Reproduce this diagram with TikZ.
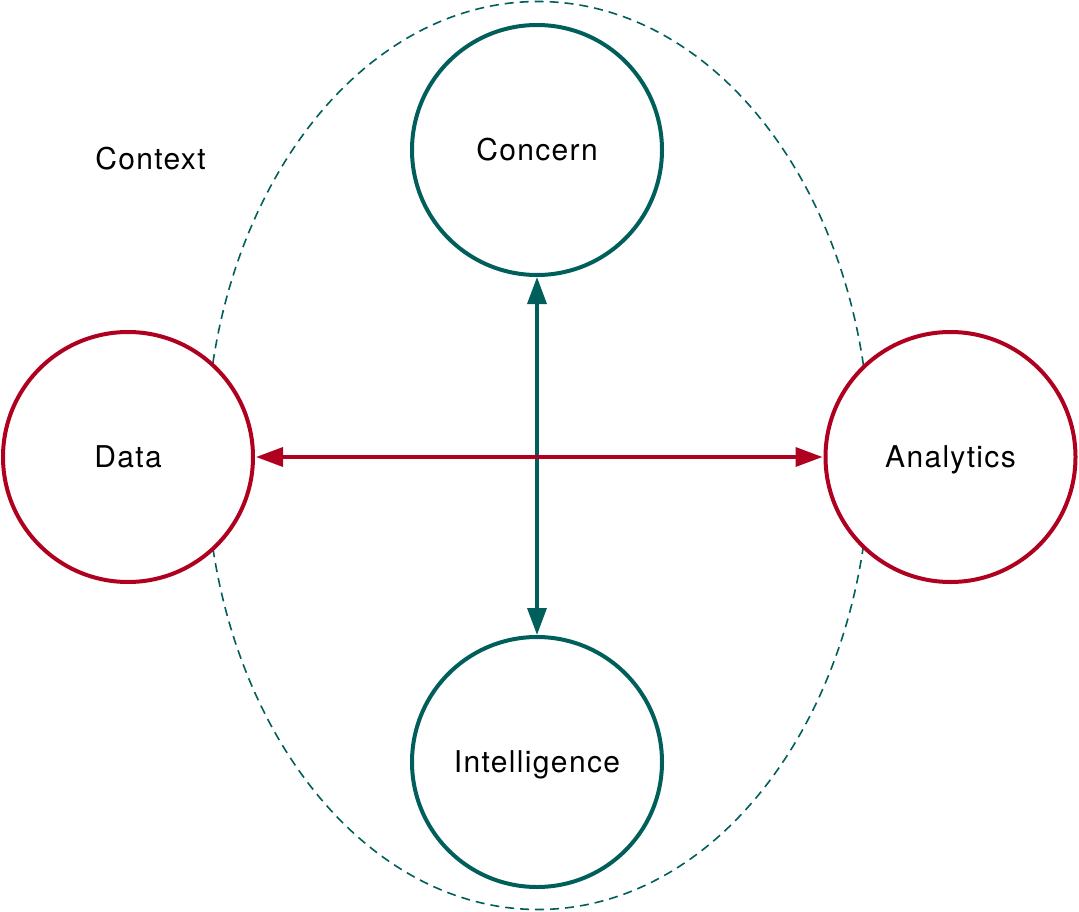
\documentclass[tikz,border=0pt]{standalone}
\usepackage{fontspec}
\setmainfont{TeX Gyre Heros}[LetterSpace=4.5]
\usetikzlibrary{arrows.meta}
\definecolor{tealc}{RGB}{0,95,90}
\definecolor{redc}{RGB}{176,0,32}
\begin{document}
\begin{tikzpicture}[x=1pt,y=-1pt,
  lbl/.style={font=\fontsize{30}{36}\selectfont, text=black, text height=21pt, text depth=0pt},
  bubble/.style={circle, draw, fill=white, line width=4pt, minimum size=250pt, inner sep=0pt, lbl},
  tealbub/.style={bubble, draw=tealc},
  redbub/.style={bubble, draw=redc},
  link/.style={line width=3.5pt, {Triangle[length=27pt,width=19pt]}-{Triangle[length=27pt,width=19pt]}}
]
\useasboundingbox (0,0) rectangle (1079,912);
\draw[tealc, line width=1.6pt, dash pattern=on 9pt off 6pt] (538,455.5) ellipse [x radius=332, y radius=454];
\node[tealbub] (concern) at (537,150) {Concern};
\node[tealbub] (intel) at (537,762) {Intelligence};
\node[redbub] (data) at (128,457) {Data};
\node[redbub] (analytics) at (950.5,457) {Analytics};
\node[lbl, anchor=center] (context) at (150.5,159) {Context};
\draw[link, tealc] (concern.south) -- (intel.north);
\draw[link, redc, shorten <=1pt, shorten >=1pt] (data.east) -- (analytics.west);
\end{tikzpicture}
\end{document}
